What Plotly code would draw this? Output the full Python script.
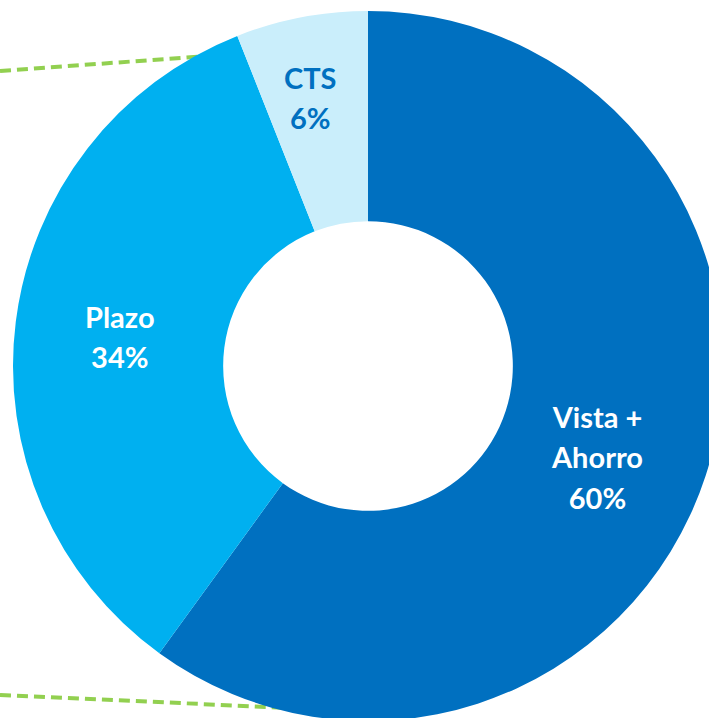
import math
import plotly.graph_objects as go

# Data
categories = ["Vista +<br>Ahorro", "Plazo", "CTS"]
shares = [60, 34, 6]

# Styles
slice_colors = ["#0070C0", "#00B0F0", "#CAEEFB"]
label_colors = ["#FFFFFF", "#FFFFFF", "#0070C0"]
label_radius_px = [246, 250, 275]      # radial placement of each label
label_angle_nudge = [3.7, -0.5, -1.4]  # degrees, small nudge from the bisector

W, H = 736, 732
CX, CY = 368, 366  # donut centre in px

fig = go.Figure(
    go.Pie(
        labels=categories,
        values=shares,
        hole=0.408,
        sort=False,
        direction="clockwise",
        rotation=0,
        marker=dict(colors=slice_colors, line=dict(width=0)),
        textinfo="none",
        showlegend=False,
        domain=dict(x=[13 / W, 723 / W], y=[11 / H, 721 / H]),
        hoverinfo="label+percent",
    )
)

def px(x, y):
    return x / W, 1 - y / H

# labels placed along each slice's bisector (derived from the data)
total = sum(shares)
cum = 0
for i, (cat, val) in enumerate(zip(categories, shares)):
    mid = 360 * (cum + val / 2) / total + label_angle_nudge[i]
    cum += val
    r = label_radius_px[i]
    lx = CX + r * math.sin(math.radians(mid))
    ly = CY - r * math.cos(math.radians(mid))
    lines = cat.split("<br>") + [f"{round(100 * val / total)}%"]
    txt = "<br>".join(f"<span style='font-size:29px'>{ln}</span>" for ln in lines)
    ax, ay = px(lx, ly)
    fig.add_annotation(
        x=ax, y=ay, xref="paper", yref="paper",
        text=f"<b>{txt}</b>", showarrow=False,
        xanchor="center", yanchor="middle", align="center",
        font=dict(family="Lato", size=31, color=label_colors[i]),
    )

x0, y0 = px(0, 71)
x1, y1 = px(235, 54)
x2, y2 = px(0, 695)
x3, y3 = px(290, 708)

line_style = dict(color="#92D050", width=4, dash="11px,6px")
fig.add_shape(type="line", xref="paper", yref="paper", x0=x0, y0=y0, x1=x1, y1=y1,
              line=line_style, layer="below")
fig.add_shape(type="line", xref="paper", yref="paper", x0=x2, y0=y2, x1=x3, y1=y3,
              line=line_style, layer="below")

fig.update_layout(
    width=W,
    height=H,
    margin=dict(l=0, r=0, t=0, b=0),
    paper_bgcolor="white",
    plot_bgcolor="white",
)

fig.write_html(
    "out.html",
    config={"displayModeBar": False},
    post_script="document.body.style.margin='0';document.body.style.overflow='hidden';",
)
